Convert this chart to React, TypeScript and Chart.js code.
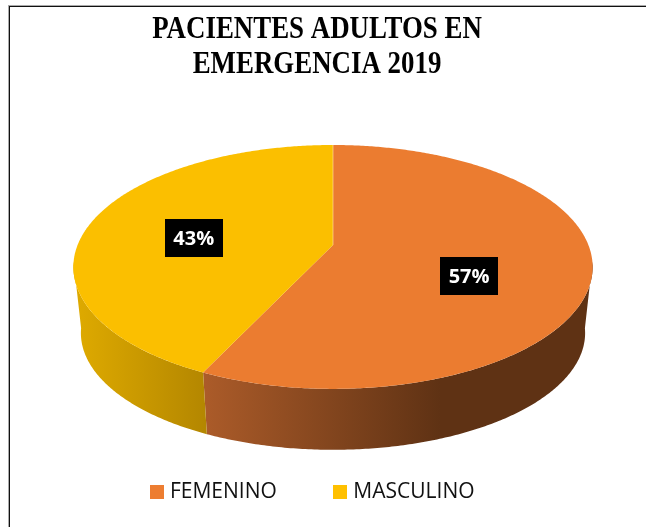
import React, { useEffect, useRef } from "react";
import { Chart, registerables } from "chart.js";

Chart.register(...registerables);

const categories = ["FEMENINO", "MASCULINO"];
const values = [57, 43];
const topColors = ["#EB7C30", "#FBBF00"];
const legendColors = ["#ED7D31", "#FFC000"];
const titleLines = ["PACIENTES ADULTOS EN", "EMERGENCIA 2019"];

const CX = 333;
const K = -0.18;
const TOP = { r: 255.4, vy: 245, b: 118 };
const BOT = { r: 248, vy: 312, b: 113 };
const LABEL_F = 0.55;
const LABEL_NUDGE = [[-4, 17], [-5, 7]];
const TITLE_SQUEEZE = 0.84;
const TITLE_CENTER = 317;
const LEGEND_CENTER_Y = 492;
const LEGEND_PADDING = 61;
const LEGEND_SIZE = 21;

function project(a: number, s: { r: number; vy: number; b: number }, f = 1) {
  // a: Chart.js angle, where -PI/2 is the top of the circle
  const x = Math.cos(a) * f;
  const y = Math.sin(a) * f;
  const w = 1 + K * y;
  return { x: CX + (s.r * x) / w, y: s.vy + (s.b * y) / w };
}

function trace(ctx: CanvasRenderingContext2D, from: number, to: number, s: any, first: boolean) {
  const n = Math.max(2, Math.ceil(Math.abs(to - from) / 0.01));
  for (let i = 0; i <= n; i++) {
    const p = project(from + ((to - from) * i) / n, s);
    if (first && i === 0) ctx.moveTo(p.x, p.y);
    else ctx.lineTo(p.x, p.y);
  }
}

function swatch(color: string) {
  const c = document.createElement("canvas");
  c.width = 14;
  c.height = 14;
  const g = c.getContext("2d")!;
  g.fillStyle = color;
  g.fillRect(0, 0, 14, 14);
  return c;
}

const pie3d = {
  id: "pie3d",
  beforeDatasetsDraw(chart: any) {
    const ctx: CanvasRenderingContext2D = chart.ctx;
    const arcs = chart.getDatasetMeta(0).data;
    const FRONT_A = (8 * Math.PI) / 180; // right end of the visible wall
    const FRONT_B = (172 * Math.PI) / 180; // left end of the visible wall
    ctx.save();
    // side walls
    arcs.forEach((arc: any, i: number) => {
      const a = Math.max(arc.startAngle, FRONT_A);
      const b = Math.min(arc.endAngle, FRONT_B);
      if (b <= a) return;
      const g = i === 0
        ? ctx.createLinearGradient(206, 0, 440, 0)
        : ctx.createLinearGradient(80, 0, 208, 0);
      if (i === 0) {
        g.addColorStop(0, "#AB5B29");
        g.addColorStop(1, "#5F3214");
      } else {
        g.addColorStop(0, "#DDA900");
        g.addColorStop(1, "#B38600");
      }
      ctx.beginPath();
      trace(ctx, a, b, TOP, true);
      trace(ctx, b, a, BOT, false);
      ctx.closePath();
      ctx.fillStyle = g;
      ctx.fill();
    });
    // top face
    arcs.forEach((arc: any, i: number) => {
      ctx.beginPath();
      ctx.moveTo(CX, TOP.vy);
      trace(ctx, arc.startAngle, arc.endAngle, TOP, false);
      ctx.closePath();
      ctx.fillStyle = topColors[i];
      ctx.fill();
    });
    // pale seam where the first slice starts
    const p0 = project(arcs[0].startAngle, TOP);
    ctx.beginPath();
    ctx.moveTo(CX, TOP.vy);
    ctx.lineTo(p0.x, p0.y);
    ctx.strokeStyle = "rgba(255,225,170,0.6)";
    ctx.lineWidth = 1;
    ctx.stroke();
    // labels
    ctx.font = "bold 20px 'Open Sans'";
    ctx.textAlign = "center";
    ctx.textBaseline = "middle";
    arcs.forEach((arc: any, i: number) => {
      const mid = (arc.startAngle + arc.endAngle) / 2;
      const p = project(mid, TOP, LABEL_F);
      const x = p.x + LABEL_NUDGE[i][0];
      const y = p.y + LABEL_NUDGE[i][1];
      ctx.fillStyle = "#000";
      ctx.fillRect(Math.round(x - 29), Math.round(y - 19), 58, 38);
      ctx.fillStyle = "#fff";
      ctx.fillText(values[i] + "%", x, y + 1);
    });
    ctx.restore();
    return false;
  },
};

const frame = {
  id: "frame",
  beforeDraw(chart: any) {
    const ctx: CanvasRenderingContext2D = chart.ctx;
    ctx.save();
    ctx.fillStyle = "#fff";
    ctx.fillRect(0, 0, chart.width, chart.height);
    ctx.fillStyle = "#aaa";
    ctx.fillRect(8, 5, 1, chart.height - 5);
    ctx.fillRect(8, 5, chart.width - 8, 1);
    ctx.fillStyle = "#111";
    ctx.fillRect(9, 6, 1, chart.height - 6);
    ctx.fillRect(9, 6, chart.width - 9, 1);
    ctx.restore();
  },
};

// The title is a taller, narrower serif in the reference: squeeze the library's own title block.
const placeBlocks = {
  id: "placeBlocks",
  afterLayout(chart: any) {
    const lg = chart.legend;
    const h = lg.bottom - lg.top;
    lg.top = LEGEND_CENTER_Y - LEGEND_SIZE / 2 - LEGEND_PADDING;
    lg.bottom = lg.top + h;
    const tb = chart.titleBlock;
    if (!tb || tb.__squeezed) return;
    tb.__squeezed = true;
    const draw = tb.draw;
    tb.draw = function (...args: any[]) {
      const ctx = chart.ctx;
      ctx.save();
      ctx.translate(TITLE_CENTER, 0);
      ctx.scale(TITLE_SQUEEZE, 1);
      ctx.translate(-(tb.left + tb.right) / 2, 0);
      draw.apply(this, args);
      ctx.restore();
    };
  },
};

export default function App() {
  const ref = useRef<HTMLCanvasElement>(null);
  useEffect(() => {
    const chart = new Chart(ref.current!, {
      type: "pie",
      data: {
        labels: categories,
        datasets: [{ data: values, backgroundColor: legendColors, borderWidth: 0 }],
      },
      options: {
        responsive: false,
        animation: false,
        layout: { padding: { top: 8, bottom: 0, right: 17 } },
        plugins: {
          title: {
            display: true,
            text: titleLines,
            color: "#000",
            font: { family: "'Liberation Serif'", weight: "bold", size: 32, lineHeight: 1.09 },
            padding: { top: 4, bottom: 10 },
          },
          legend: {
            display: true,
            position: "bottom",
            labels: {
              color: "#111",
              usePointStyle: true,
              pointStyleWidth: 5,
              boxHeight: 14,
              padding: LEGEND_PADDING,
              font: { family: "'Open Sans'", size: LEGEND_SIZE },
              generateLabels: () =>
                categories.map((text, i) => ({
                  text,
                  fontColor: "#111",
                  pointStyle: swatch(legendColors[i]),
                  fillStyle: legendColors[i],
                  lineWidth: 0,
                  hidden: false,
                  index: i,
                })),
            },
          },
          tooltip: { enabled: false },
        },
      },
      plugins: [frame, placeBlocks, pie3d],
    } as any);
    return () => chart.destroy();
  }, []);
  return (
    <canvas
      ref={ref}
      width={646}
      height={527}
      style={{ position: "fixed", left: 0, top: 0, display: "block" }}
    />
  );
}
